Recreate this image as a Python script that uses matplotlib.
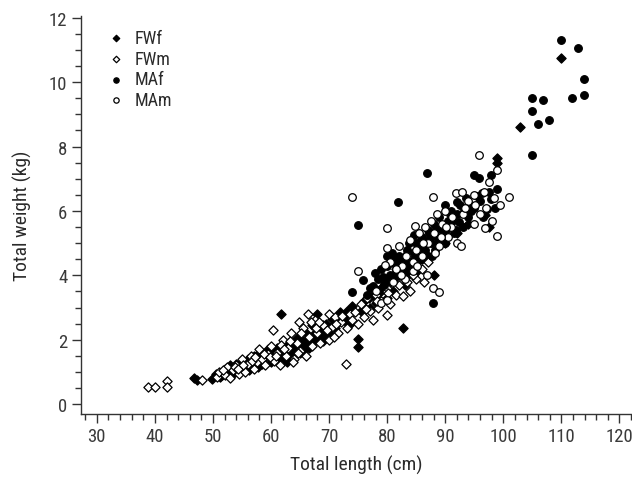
import matplotlib
matplotlib.use("Agg")
import matplotlib.pyplot as plt
from matplotlib.ticker import MultipleLocator

plt.rcParams['font.family'] = ['Roboto Condensed', 'DejaVu Sans']

# ---- data ----
fwf_x = [46.8, 47.2, 49.8, 50.5, 51.5, 52.0, 52.5, 53.0, 53.5, 54.0, 54.5, 55.0, 55.5, 56.0, 56.5,
         57.0, 57.5, 58.0, 58.5, 59.0, 59.5, 60.0, 60.5, 61.0, 61.8, 62.0, 62.5, 63.0, 63.5, 64.0,
         64.5, 65.0, 65.5, 66.0, 66.5, 67.0, 67.5, 68.0, 68.5, 69.0, 69.5, 70.0, 70.5, 71.0, 71.9,
         72.5, 73.0, 73.5, 74.0, 74.9, 74.9, 75.5, 76.0, 77.0, 77.5, 78.0, 79.0, 80.0, 80.5, 81.0,
         82.0, 82.8, 83.0, 84.0, 85.0, 86.0, 88.0, 90.0, 92.0, 94.0, 96.9, 97.5, 99.0, 99.0, 102.9,
         110.0, 57.8, 59.2, 61.3, 63.2, 65.8, 67.2, 69.3, 54.8, 56.2, 60.2, 62.8, 64.2, 66.2, 68.3,
         51.2, 53.2, 55.8, 58.2, 59.8, 61.6, 63.6, 65.3, 66.8, 68.8, 70.3, 71.5, 72.8, 76.8, 78.6,
         79.6, 81.6, 83.6, 84.6, 87.0]
fwf_y = [0.82, 0.76, 0.78, 0.95, 0.90, 1.10, 1.00, 1.20, 0.95, 1.25, 1.10, 1.30, 1.15, 1.40, 1.20,
         1.50, 1.35, 1.60, 1.25, 1.45, 1.70, 1.30, 1.55, 1.75, 2.80, 1.45, 1.65, 1.90, 1.50, 1.80,
         2.05, 1.60, 1.95, 2.20, 1.75, 2.45, 2.00, 2.80, 2.30, 1.95, 2.50, 2.20, 2.65, 2.35, 2.86,
         2.60, 2.90, 2.45, 3.05, 2.02, 1.78, 2.90, 3.20, 3.00, 3.40, 3.15, 3.60, 3.30, 3.80, 3.50,
         4.00, 2.37, 3.70, 4.30, 4.10, 4.50, 4.00, 5.00, 5.30, 5.60, 5.86, 5.50, 7.63, 7.50, 8.60,
         10.75, 1.15, 1.60, 1.40, 1.65, 1.70, 2.15, 2.15, 1.05, 1.05, 1.70, 1.30, 1.55, 1.95, 2.05,
         0.85, 1.05, 1.30, 1.45, 1.50, 1.55, 1.70, 1.85, 2.00, 2.25, 2.40, 2.55, 2.75, 3.30, 3.45,
         3.75, 4.20, 4.00, 4.40, 4.60]

fwm_x = [38.8, 40.0, 42.0, 42.0, 48.1, 50.7, 51.0, 52.0, 52.5, 53.0, 53.5, 54.0, 54.5, 55.0, 55.5,
         56.0, 56.5, 57.0, 57.5, 58.0, 58.5, 59.0, 59.5, 60.0, 60.4, 60.5, 61.0, 61.5, 62.0, 62.5,
         63.0, 63.5, 64.0, 64.5, 64.9, 65.0, 65.5, 66.0, 66.4, 66.5, 67.0, 67.5, 68.0, 68.5, 69.0,
         69.9, 70.0, 70.5, 71.0, 71.5, 72.0, 72.9, 73.0, 73.6, 74.0, 75.0, 75.5, 76.0, 76.5, 77.0,
         77.5, 78.0, 78.5, 79.0, 79.9, 80.0, 80.5, 81.0, 81.5, 82.0, 82.8, 83.0, 83.5, 84.0, 85.0,
         86.0, 87.0, 56.8, 58.8, 61.8, 63.8, 65.2, 67.8, 70.8, 72.3, 53.8, 55.2, 59.8, 62.2, 66.8,
         51.8, 54.3, 57.3, 60.8, 63.3, 64.7, 68.2, 69.6, 71.2, 74.5, 76.3, 78.2, 80.2, 84.5, 86.4]
fwm_y = [0.52, 0.52, 0.72, 0.52, 0.75, 0.85, 1.00, 0.90, 1.15, 0.80, 1.05, 1.20, 0.95, 1.40, 1.00,
         1.25, 1.50, 1.10, 1.30, 1.70, 1.40, 1.20, 1.55, 1.80, 2.30, 1.35, 1.60, 1.20, 2.00, 1.50,
         1.75, 2.20, 1.40, 1.90, 2.54, 1.65, 2.35, 1.50, 2.81, 2.10, 1.80, 2.60, 2.20, 1.90, 2.45,
         2.79, 2.00, 2.40, 2.70, 2.20, 2.55, 1.25, 2.35, 2.81, 2.60, 2.50, 3.10, 2.70, 3.30, 2.90,
         2.60, 3.40, 3.00, 3.20, 2.78, 3.60, 3.10, 3.90, 3.40, 3.70, 3.36, 4.10, 3.80, 3.50, 3.90,
         4.20, 4.40, 1.35, 1.55, 1.85, 1.30, 2.20, 2.35, 2.10, 2.75, 1.15, 1.20, 1.45, 1.70, 2.55,
         1.05, 1.10, 1.45, 1.50, 1.95, 1.60, 2.55, 2.30, 2.50, 2.85, 2.95, 3.20, 3.45, 4.00, 3.80]

maf_x = [73.9, 74.9, 75.9, 76.5, 77.0, 77.9, 78.5, 79.0, 79.5, 80.0, 80.5, 81.0, 81.5, 81.9, 82.0,
         82.5, 83.0, 83.5, 84.0, 84.5, 85.0, 85.5, 86.0, 86.5, 86.9, 87.0, 87.5, 87.9, 88.0, 88.5,
         89.0, 89.5, 89.9, 90.0, 90.5, 91.0, 91.5, 92.0, 92.5, 93.0, 93.5, 94.0, 94.9, 95.9, 95.0,
         96.0, 97.5, 97.9, 97.9, 99.0, 104.9, 104.9, 106.8, 104.9, 105.9, 107.9, 110.0, 112.8, 113.9,
         111.8, 113.9, 77.6, 80.8, 82.2, 83.8, 84.8, 85.8, 86.2, 87.2, 88.2, 89.2, 90.2, 91.2, 92.0,
         93.2, 81.2, 83.2, 85.2, 87.8, 89.8, 91.8, 94.5, 96.5, 98.5,
         78.2, 79.2, 80.3, 81.4, 82.6, 83.4, 84.2, 85.4, 86.6, 87.4, 88.4, 89.4, 90.6, 91.4, 92.4,
         93.6, 94.4, 95.4, 96.4, 97.2, 84.6, 86.0, 88.8, 90.8, 82.8, 80.0]
maf_y = [3.47, 5.57, 3.87, 3.40, 3.60, 4.07, 3.90, 4.20, 3.70, 4.30, 4.00, 4.50, 4.10, 6.27, 4.60,
         4.20, 4.40, 4.80, 4.30, 4.70, 5.00, 4.50, 5.20, 4.80, 7.19, 5.40, 5.00, 3.14, 5.60, 5.20,
         5.80, 5.40, 6.20, 5.00, 5.70, 6.00, 5.30, 5.90, 6.20, 5.50, 6.40, 5.80, 7.12, 7.02, 6.10,
         6.30, 6.58, 6.38, 7.12, 6.67, 7.73, 9.50, 9.44, 9.10, 8.70, 8.82, 11.30, 11.05, 10.10,
         9.52, 9.60, 3.67, 4.70, 4.40, 5.00, 4.60, 5.10, 4.90, 5.30, 4.80, 5.00, 5.40, 5.70, 6.28,
         6.00, 3.90, 4.10, 4.40, 4.60, 5.20, 5.40, 6.00, 5.80, 6.10,
         3.55, 3.95, 3.85, 4.35, 4.45, 4.65, 4.55, 4.75, 5.05, 5.15, 5.45, 5.15, 5.55, 5.85, 5.65,
         5.95, 6.15, 6.45, 6.55, 6.05, 5.25, 4.70, 5.00, 5.90, 3.95, 4.60]

mam_x = [73.9, 74.9, 79.9, 79.9, 87.9, 87.9, 88.9, 91.8, 92.9, 94.9, 95.9, 96.9, 99.0, 99.0, 100.9,
         78.0, 80.5, 81.0, 82.0, 82.5, 83.0, 83.5, 84.0, 84.5, 85.0, 85.5, 86.0, 86.5, 87.0, 88.0,
         88.5, 89.0, 89.5, 90.0, 90.5, 91.0, 92.0, 93.0, 94.0, 95.0, 96.0, 97.0, 98.0, 97.5, 99.5,
         84.8, 92.8, 86.8, 79.7, 84.5, 78.9, 79.9,
         81.6, 83.2, 85.2, 86.2, 88.2, 89.2, 90.2, 91.2, 93.4, 95.2, 96.6, 98.4, 82.4, 87.6]
mam_y = [6.44, 4.15, 5.47, 4.85, 6.42, 3.60, 3.47, 6.55, 6.60, 5.60, 7.74, 5.47, 5.23, 7.27, 6.42,
         3.50, 4.40, 3.80, 4.90, 4.30, 3.90, 4.60, 5.10, 4.40, 4.80, 5.30, 4.60, 5.50, 5.00, 5.30,
         5.90, 4.90, 5.60, 6.00, 5.20, 5.50, 5.00, 5.90, 6.30, 6.50, 5.90, 6.10, 5.70, 6.90, 6.20,
         5.52, 4.91, 4.00, 4.31, 4.12, 3.15, 3.22,
         4.20, 4.60, 4.30, 5.00, 4.70, 5.20, 5.50, 5.80, 6.10, 6.20, 6.60, 6.40, 4.00, 5.70]

labels = ['FWf', 'FWm', 'MAf', 'MAm']

# ---- figure ----
fig = plt.figure(figsize=(6.32, 4.81), dpi=100)
ax = fig.add_axes([0.1275, 0.137, 0.871, 0.828])

ax.scatter(fwf_x, fwf_y, marker='D', s=22, facecolor='black', edgecolor='black', linewidth=0.9, label=labels[0], zorder=3)
ax.scatter(fwm_x, fwm_y, marker='D', s=22, facecolor='white', edgecolor='black', linewidth=0.9, label=labels[1], zorder=3)
ax.scatter(maf_x, maf_y, marker='o', s=30, facecolor='black', edgecolor='black', linewidth=0.9, label=labels[2], zorder=3)
ax.scatter(mam_x, mam_y, marker='o', s=30, facecolor='white', edgecolor='black', linewidth=0.9, label=labels[3], zorder=3)

ax.set_xlim(27.2, 122)
ax.set_ylim(-0.31, 12.06)
ax.xaxis.set_major_locator(MultipleLocator(10))
ax.xaxis.set_minor_locator(MultipleLocator(2))
ax.yaxis.set_major_locator(MultipleLocator(2))
ax.yaxis.set_minor_locator(MultipleLocator(0.5))

for s in ['top', 'right']:
    ax.spines[s].set_visible(False)
for s in ['left', 'bottom']:
    ax.spines[s].set_color('#333333')
    ax.spines[s].set_linewidth(1.0)

ax.tick_params(which='major', length=6.5, width=1.0, color='#333333', labelsize=13.5, labelcolor='#3a3a3a', pad=3)
ax.tick_params(which='minor', length=4, width=1.0, color='#333333')

ax.set_xlabel('Total length (cm)', fontsize=14, color='#2a2a2a', labelpad=7)
ax.set_ylabel('Total weight (kg)', fontsize=14, color='#2a2a2a', labelpad=12)

leg = ax.legend(loc='upper left', bbox_to_anchor=(0.035, 0.985), frameon=False, fontsize=13,
                handletextpad=0.5, labelspacing=0.15, handlelength=1.0, markerscale=0.7,
                borderaxespad=0.0)
for t in leg.get_texts():
    t.set_color('#2a2a2a')

fig.savefig('out.png', dpi=100)
